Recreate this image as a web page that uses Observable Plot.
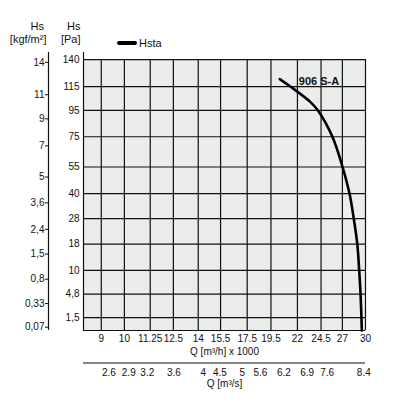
<!DOCTYPE html>
<html><head><meta charset="utf-8">
<script src="https://cdn.jsdelivr.net/npm/d3@7"></script>
<script src="https://cdn.jsdelivr.net/npm/@observablehq/plot@0.6"></script>
<style>
body{margin:0;background:#fff;font-family:"Liberation Sans",Arial,sans-serif;}
#wrap{position:relative;width:397px;height:413px;}
#legend{position:absolute;left:117px;top:37px;font-size:11px;display:flex;align-items:center;color:#111;line-height:12px}
#legend .sw{display:inline-block;width:20px;height:4px;background:#000;border-radius:2px;margin-right:2px}
</style></head><body>
<div id="wrap"><div id="legend"><span class="sw"></span>Hsta</div></div>
<script>
// x ticks: Q [m³/h] x 1000
const qTicks = [9, 10, 11.25, 12.5, 14, 15.5, 17.5, 19.5, 22, 24.5, 27, 30];
// y ticks: Hs [Pa]
const paTicks = [1.5, 4.8, 10, 18, 28, 40, 55, 75, 95, 115, 140];
// second y axis: Hs [kgf/m²]
const kgfTicks = [0.07, 0.33, 0.8, 1.5, 2.4, 3.6, 5, 7, 9, 11, 14];
// second x axis: Q [m³/s] labels, and where they sit on the m³/h scale
const qsLabels = ["2.6", "2.9", "3.2", "3.6", "4", "4.5", "5", "5.6", "6.2", "6.9", "7.6", "8.4"];
const qsAt = [9.32, 10.2, 11.1, 12.53, 14.32, 15.45, 17.11, 18.59, 20.68, 23.0, 25.2, 29.77];
// curve 906 S-A (Hsta)
const curveName = "906 S-A";
const curveQ  = [20.3, 21.3, 23.35, 24.14, 25.8, 26.97, 27.89, 28.44, 28.9, 29.15, 29.33, 29.45, 29.5];
const curveHs = [121.7, 115, 101.7, 95, 75, 55.9, 40, 28, 18, 10, 4.8, 1.5, 0.48];

const xDom = [8.3, 30];
const yDom = [0.48, 147];
const xMax = qTicks[qTicks.length - 1];
const yTop = paTicks[paTicks.length - 1];
const curve = curveQ.map((q, i) => ({q, hs: curveHs[i]}));
const kgfPa = kgfTicks.map(v => v * 9.81);
const comma = v => String(v).replace(".", ",");
const ink = "#111";
const lw = 1.2;

const chart = Plot.plot({
  width: 397, height: 413,
  marginLeft: 83, marginRight: 32, marginTop: 52, marginBottom: 83,
  style: {fontFamily: '"Liberation Sans", Arial, sans-serif', fontSize: "10px", color: ink, background: "transparent"},
  x: {type: "log", domain: xDom, label: null, axis: null},
  y: {type: "sqrt", domain: yDom, label: null},
  marks: [
    Plot.rect([0], {x1: xDom[0], x2: xMax, y1: yDom[0], y2: yTop, fill: "#ebecec"}),
    Plot.ruleY(paTicks, {x1: xDom[0], x2: xMax, stroke: ink, strokeWidth: lw}),
    Plot.ruleX(qTicks, {y1: yDom[0], y2: yTop, stroke: ink, strokeWidth: lw}),
    Plot.ruleX([xDom[0]], {y1: yDom[0], y2: yDom[1], stroke: ink, strokeWidth: lw}),
    Plot.ruleY([yDom[0]], {x1: xDom[0], x2: xMax, stroke: ink, strokeWidth: lw}),
    // kgf axis
    Plot.ruleX([xDom[0]], {y1: yDom[0], y2: yDom[1], dx: -35, stroke: ink, strokeWidth: lw}),
    Plot.axisY(kgfPa, {anchor: "left", dx: -35, tickSize: 3, tickPadding: 1, label: null,
      tickFormat: d => comma(kgfTicks[kgfPa.indexOf(d)])}),
    // Pa axis
    Plot.axisY(paTicks, {anchor: "left", tickSize: 0, tickPadding: 4, label: null, tickFormat: comma}),
    // m³/h axis
    Plot.text(qTicks, {x: d => d, text: d => String(d), frameAnchor: "bottom", dy: 8.5, lineAnchor: "middle"}),
    Plot.text(["Q [m³/h] x 1000"], {text: d => d, frameAnchor: "bottom", dy: 21, lineAnchor: "middle"}),
    // m³/s axis
    Plot.ruleY([yDom[0]], {x1: xDom[0], x2: xMax, dy: 32.5, stroke: ink, strokeWidth: lw}),
    Plot.text(qsAt, {x: d => d, text: (d, i) => qsLabels[i], frameAnchor: "bottom", dy: 42, lineAnchor: "middle"}),
    Plot.text(["Q [m³/s]"], {text: d => d, frameAnchor: "bottom", dy: 53, lineAnchor: "middle"}),
    // headers
    Plot.text(["Hs"], {text: d => d, frameAnchor: "top-left", dx: -39.5, dy: -26, textAnchor: "end", lineAnchor: "middle", fontSize: 11}),
    Plot.text(["[kgf/m²]"], {text: d => d, frameAnchor: "top-left", dx: -37, dy: -13, textAnchor: "end", lineAnchor: "middle", fontSize: 11}),
    Plot.text(["Hs"], {text: d => d, frameAnchor: "top-left", dx: -3, dy: -26, textAnchor: "end", lineAnchor: "middle", fontSize: 11}),
    Plot.text(["[Pa]"], {text: d => d, frameAnchor: "top-left", dx: -3, dy: -13, textAnchor: "end", lineAnchor: "middle", fontSize: 11}),
    // curve
    Plot.line(curve, {x: "q", y: "hs", stroke: "#000", strokeWidth: 2.6, curve: "catmull-rom"}),
    Plot.text([curve[0]], {x: "q", y: "hs", text: () => curveName, dx: 19, dy: 2, textAnchor: "start", lineAnchor: "middle", fontWeight: "bold", fontSize: 11})
  ]
});
document.getElementById("wrap").prepend(chart);
chart.style.position = "absolute";
chart.style.left = "0";
chart.style.top = "0";
</script>
</body></html>
